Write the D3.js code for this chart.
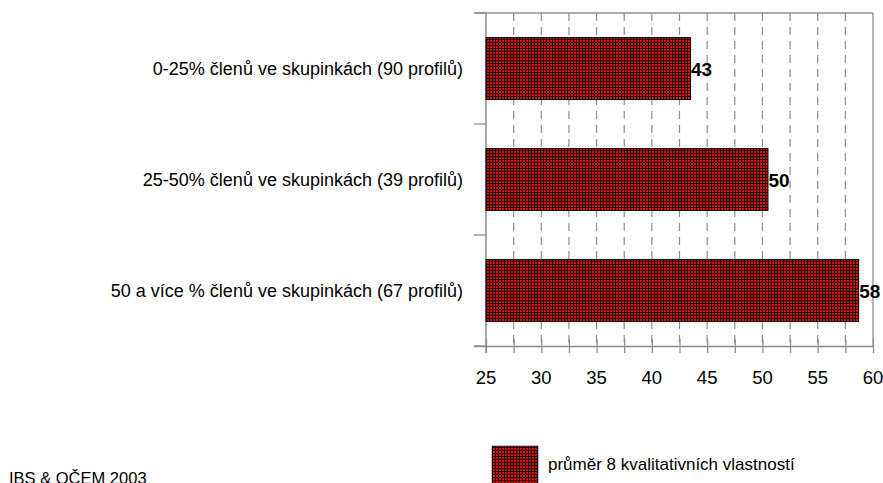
<!DOCTYPE html>
<html><head><meta charset="utf-8">
<script src="https://cdn.jsdelivr.net/npm/d3@7"></script>
<style>body{margin:0;background:#fff}svg{display:block}text{font-family:"Liberation Sans",Arial,sans-serif}</style>
</head><body>
<script>
const categories = ["0-25% členů ve skupinkách (90 profilů)", "25-50% členů ve skupinkách (39 profilů)", "50 a více % členů ve skupinkách (67 profilů)"];
const values = [43.5, 50.5, 58.7];
const valueLabels = ["43", "50", "58"];
const xTicks = [25, 30, 35, 40, 45, 50, 55, 60];
const xMinor = d3.range(25, 60.01, 2.5);
const seriesName = "průměr 8 kvalitativních vlastností";
const source = "IBS & OČEM 2003";

const W = 883, H = 483;
const svg = d3.select("body").append("svg").attr("width", W).attr("height", H);
const defs = svg.append("defs");
const pat = defs.append("pattern").attr("id", "grid").attr("patternUnits", "userSpaceOnUse").attr("width", 3).attr("height", 3);
pat.append("rect").attr("width", 3).attr("height", 3).attr("fill", "#000").attr("shape-rendering", "crispEdges");
pat.append("rect").attr("x", 1).attr("y", 1).attr("width", 2).attr("height", 2).attr("fill", "#ff0000").attr("shape-rendering", "crispEdges");

const L = 486, R = 873, T = 13, B = 346;
const x = d3.scaleLinear().domain([25, 60]).range([L, R]);
const y = d3.scaleBand().domain(categories).range([T, B]).paddingInner(0.443).paddingOuter(0.2215);
const gray = "#8c8c8c";

// dashed gridlines
svg.append("g").selectAll("line").data(xMinor.filter(v => v > 25 && v < 60)).join("line")
  .attr("x1", d => x(d)).attr("x2", d => x(d)).attr("y1", T).attr("y2", B)
  .attr("stroke", gray).attr("stroke-width", 1.2).attr("stroke-dasharray", "8,6");

// frame top & right
svg.append("line").attr("x1", L - 11).attr("x2", R).attr("y1", T).attr("y2", T).attr("stroke", gray).attr("stroke-width", 1.3);
svg.append("line").attr("x1", R).attr("x2", R).attr("y1", T).attr("y2", B).attr("stroke", gray).attr("stroke-width", 1.3);

// bottom axis
const xAxis = d3.axisBottom(x).tickValues(xMinor).tickSize(7).tickSizeOuter(0).tickFormat("");
const gx = svg.append("g").attr("transform", `translate(0,${B})`).call(xAxis);
gx.select(".domain").attr("d", `M${L - 12},0.5H${R}`).attr("stroke", gray).attr("stroke-width", 1.3);
gx.selectAll(".tick line").attr("stroke", gray).attr("stroke-width", 1.2).attr("y1", -7);
svg.append("g").selectAll("text").data(xTicks).join("text")
  .attr("x", d => x(d)).attr("y", 383.5).attr("text-anchor", "middle")
  .attr("font-size", 18.5).attr("fill", "#000").text(d => d);

// left axis with category boundary ticks
svg.append("line").attr("x1", L).attr("x2", L).attr("y1", T).attr("y2", B + 7).attr("stroke", gray).attr("stroke-width", 1.5);
const bounds = categories.map(c => y(c) - (y.step() - y.bandwidth()) / 2).concat([B]);
svg.append("g").selectAll("line").data(bounds).join("line")
  .attr("x1", L - 12).attr("x2", L).attr("y1", d => d).attr("y2", d => d)
  .attr("stroke", gray).attr("stroke-width", 1.3);

// category labels
svg.append("g").selectAll("text").data(categories).join("text")
  .attr("x", 463).attr("y", d => y(d) + y.bandwidth() / 2 + 6).attr("text-anchor", "end")
  .attr("font-size", 18).attr("fill", "#000").text(d => d);

// bars
svg.append("g").selectAll("rect").data(values).join("rect")
  .attr("x", x(25)).attr("y", (d, i) => y(categories[i]))
  .attr("width", d => x(d) - x(25)).attr("height", y.bandwidth())
  .attr("fill", "url(#grid)").attr("stroke", "#000").attr("stroke-width", 1);

// value labels
svg.append("g").selectAll("text").data(values).join("text")
  .attr("x", d => x(d) + 0.5).attr("y", (d, i) => y(categories[i]) + y.bandwidth() / 2 + 7.5)
  .attr("font-size", 19).attr("font-weight", "bold").attr("fill", "#000")
  .text((d, i) => valueLabels[i]);

// legend
svg.append("rect").attr("x", 492).attr("y", 446).attr("width", 46).attr("height", 40)
  .attr("fill", "url(#grid)").attr("stroke", "#000").attr("stroke-width", 0.5);
svg.append("text").attr("x", 548).attr("y", 470).attr("font-size", 17).attr("fill", "#000").text(seriesName);

// source
svg.append("text").attr("x", 9).attr("y", 484).attr("font-size", 16.5).attr("fill", "#000").text(source);
</script>
</body></html>
